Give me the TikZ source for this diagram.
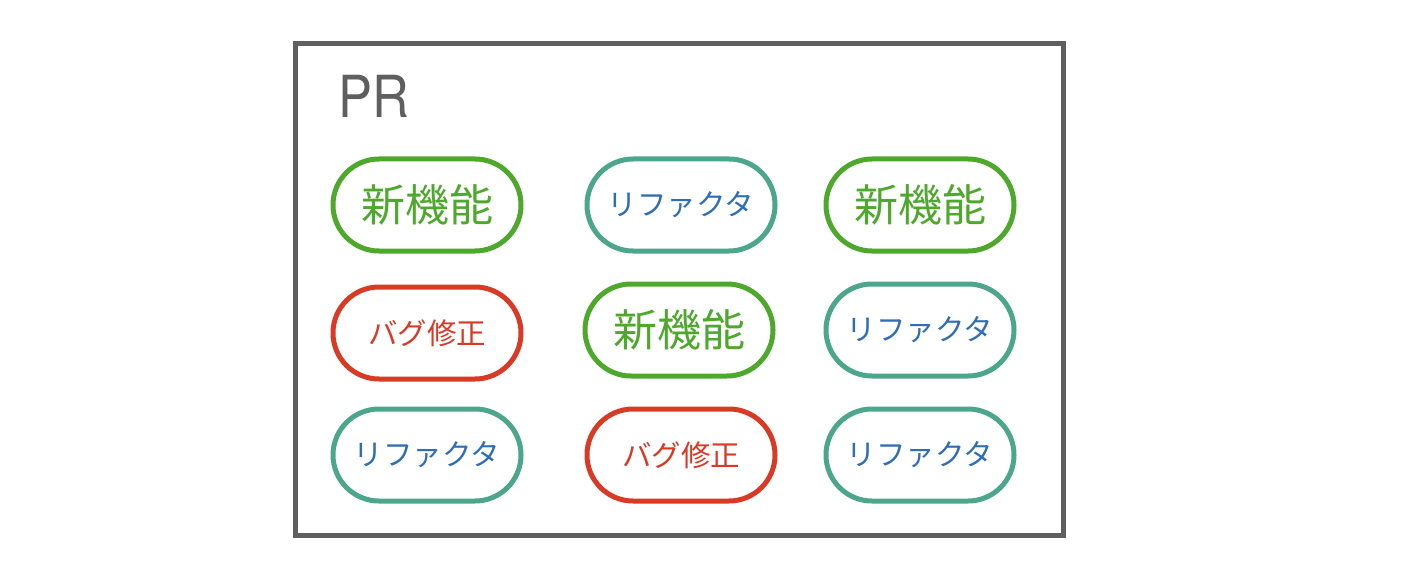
\documentclass[tikz,border=0pt]{standalone}
\usepackage{fontspec}
\usepackage{graphicx}
\newfontfamily\cjk{Noto Sans CJK JP}
\setmainfont{TeX Gyre Heros}
\usetikzlibrary{shapes.misc}
\definecolor{fgreen}{HTML}{4DA82C}
\definecolor{fteal}{HTML}{4BA68B}
\definecolor{fblue}{HTML}{2F6DB5}
\definecolor{fred}{HTML}{D93A26}
\definecolor{fgray}{HTML}{5F5F5F}
\tikzset{
  pill/.style={rounded rectangle, line width=5pt, minimum width=188pt, minimum height=92pt, inner sep=0pt, font=\cjk},
  feat/.style={pill, draw=fgreen, text=fgreen, font=\cjk\fontsize{44}{44}\selectfont},
  refac/.style={pill, draw=fteal, text=fblue, font=\cjk\fontsize{29.5}{30}\selectfont},
  bug/.style={pill, draw=fred, text=fred, font=\cjk\fontsize{29.5}{30}\selectfont},
}
\begin{document}
\begin{tikzpicture}[x=1pt,y=-1pt]
\useasboundingbox (0,0) rectangle (1418,588);
\draw[fgray, line width=5pt] (295,44) rectangle (1063,535);
\node[anchor=base west, text=fgray, font=\fontsize{58}{58}\selectfont, inner sep=0pt] (pr) at (338,118) {\scalebox{0.88}[1]{PR}};
\node[feat]  (a1) at (427,205) {新機能};
\node[refac] (a2) at (681,205) {リファクタ};
\node[feat]  (a3) at (920,205) {新機能};
\node[bug]   (b1) at (427,333) {バグ修正};
\node[feat]  (b2) at (679,330) {新機能};
\node[refac] (b3) at (920,330) {リファクタ};
\node[refac] (c1) at (427,455) {リファクタ};
\node[bug]   (c2) at (681,455) {バグ修正};
\node[refac] (c3) at (920,455) {リファクタ};
\end{tikzpicture}
\end{document}
